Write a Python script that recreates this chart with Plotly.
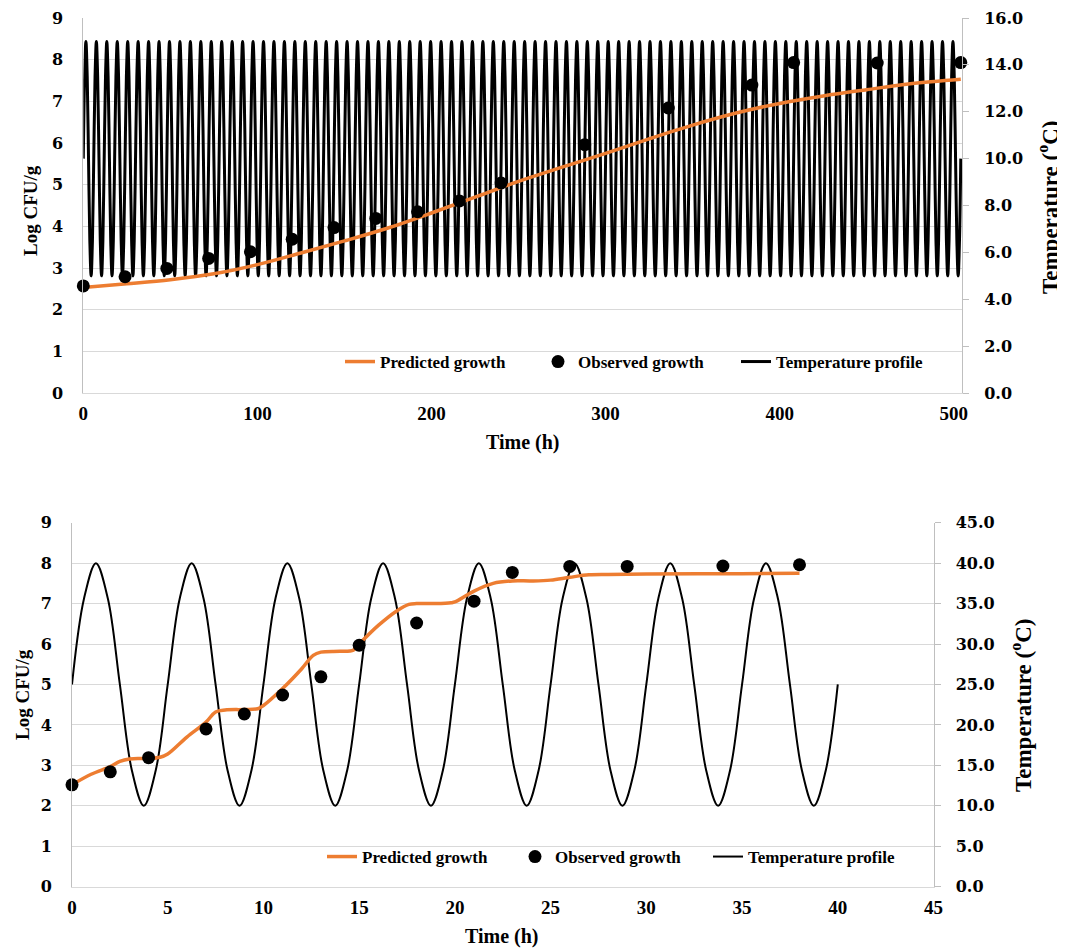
import plotly.graph_objects as go

# ---------------- Top chart data (0-504 h, 5-15 C profile) ----------------
top_obs_time = [0, 24, 48, 72, 96, 120, 144, 168, 192, 216, 240, 288, 336, 384, 408, 456, 504]
top_obs_log = [2.57, 2.79, 2.99, 3.23, 3.39, 3.69, 3.97, 4.19, 4.35, 4.61, 5.04, 5.96, 6.84, 7.39, 7.93, 7.92, 7.93]

top_pred_time = [0, 25, 50, 75, 100, 125, 150, 175, 200, 225, 250, 275, 300, 325, 350, 375, 400, 425, 450, 475, 504]
top_pred_log = [2.53, 2.62, 2.72, 2.86, 3.08, 3.36, 3.65, 3.96, 4.32, 4.70, 5.08, 5.42, 5.75, 6.10, 6.43, 6.72, 6.95, 7.13, 7.28, 7.42, 7.53]

# one cycle of the temperature profile, repeated over the run
top_temp_cycle = [10.0, 13.5, 15.0, 13.5, 10.0, 6.5, 5.0, 6.5]
top_temp_period_h = 6
top_temp_end_h = 504

# ---------------- Bottom chart data (0-40 h, 10-40 C profile) ----------------
bot_obs_time = [0, 2, 4, 7, 9, 11, 13, 15, 18, 21, 23, 26, 29, 34, 38]
bot_obs_log = [2.52, 2.84, 3.19, 3.90, 4.27, 4.74, 5.19, 5.97, 6.52, 7.06, 7.77, 7.92, 7.92, 7.93, 7.96]

bot_pred_time = [0, 1, 2, 2.5, 3, 4, 4.6, 5, 6, 7, 7.5, 8, 9, 9.7, 10, 11, 12, 12.6, 13, 14,
                 14.7, 15, 16, 17, 17.6, 18, 19, 19.8, 20, 21, 22, 23, 24, 25, 26, 27, 28, 30, 35, 38]
bot_pred_log = [2.52, 2.78, 2.97, 3.10, 3.16, 3.17, 3.20, 3.28, 3.70, 4.07, 4.32, 4.37, 4.38, 4.40, 4.48,
                4.90, 5.39, 5.72, 5.80, 5.82, 5.85, 6.00, 6.46, 6.83, 6.98, 7.00, 7.00, 7.02, 7.04,
                7.31, 7.50, 7.56, 7.56, 7.58, 7.65, 7.71, 7.72, 7.73, 7.74, 7.75]

bot_temp_cycle = [25.0, 35.6, 40.0, 35.6, 25.0, 14.4, 10.0, 14.4]
bot_temp_period_h = 5
bot_temp_end_h = 40

top_x_ticks = [0, 100, 200, 300, 400, 500]
bot_x_ticks = [0, 5, 10, 15, 20, 25, 30, 35, 40, 45]

ORANGE = "#ED7D31"
GRID = "#d9d9d9"
AXLINE = "#bfbfbf"
SERIF = "Liberation Serif"
TICKFONT = dict(family="DejaVu Serif", size=16, color="black", weight="bold")
XTICKFONT = dict(family=SERIF, size=19, color="black", weight="bold")


def tile_profile(cycle, period, end):
    step = period / len(cycle)
    n = int(round(end / step))
    ts = [i * step for i in range(n + 1)]
    vs = [cycle[i % len(cycle)] for i in range(n + 1)]
    return ts, vs


top_temp_t, top_temp_v = tile_profile(top_temp_cycle, top_temp_period_h, top_temp_end_h)
bot_temp_t, bot_temp_v = tile_profile(bot_temp_cycle, bot_temp_period_h, bot_temp_end_h)

fig = go.Figure()

# ---- top ----
fig.add_trace(go.Scatter(x=top_temp_t, y=top_temp_v, mode="lines", name="Temperature profile",
                         line=dict(color="black", width=3, shape="spline"),
                         xaxis="x", yaxis="y", legend="legend", legendrank=3))
fig.add_trace(go.Scatter(x=top_pred_time, y=top_pred_log, mode="lines", name="Predicted growth",
                         line=dict(color=ORANGE, width=3.5, shape="spline"),
                         xaxis="x", yaxis="y2", legend="legend", legendrank=1))
fig.add_trace(go.Scatter(x=top_obs_time, y=top_obs_log, mode="markers", name="Observed growth",
                         marker=dict(color="black", size=13), cliponaxis=False,
                         xaxis="x", yaxis="y2", legend="legend", legendrank=2))

# ---- bottom ----
fig.add_trace(go.Scatter(x=bot_temp_t, y=bot_temp_v, mode="lines", name="Temperature profile",
                         line=dict(color="black", width=2, shape="spline"),
                         xaxis="x2", yaxis="y3", legend="legend2", legendrank=3))
fig.add_trace(go.Scatter(x=bot_pred_time, y=bot_pred_log, mode="lines", name="Predicted growth",
                         line=dict(color=ORANGE, width=3.5, shape="spline"),
                         xaxis="x2", yaxis="y4", legend="legend2", legendrank=1))
fig.add_trace(go.Scatter(x=bot_obs_time, y=bot_obs_log, mode="markers", name="Observed growth",
                         marker=dict(color="black", size=13), cliponaxis=False,
                         xaxis="x2", yaxis="y4", legend="legend2", legendrank=2))

# page body adds an 8 px margin at top/left; figure fills the rest of the window
OFF = 8
W, H = 1065 - OFF, 949 - OFF


def px_x(p):
    return (p - OFF) / W


def px_y(p):
    return 1 - (p - OFF) / H


legend_common = dict(orientation="h", bgcolor="rgba(0,0,0,0)", yanchor="middle", xanchor="left",
                     font=dict(family=SERIF, size=17, color="black", weight="bold"),
                     itemwidth=30, tracegroupgap=0, traceorder="normal",
                     entrywidthmode="pixels")

fig.update_layout(
    width=W, height=H,
    margin=dict(l=0, r=0, t=0, b=0, autoexpand=False),
    paper_bgcolor="white", plot_bgcolor="white",
    showlegend=True,
    xaxis=dict(domain=[px_x(83.3), px_x(962)], anchor="y", range=[0, 504.7],
               tickvals=top_x_ticks, showgrid=False, zeroline=False, automargin=False,
               showline=True, linecolor=GRID, ticks="", tickfont=XTICKFONT,
               ticklabelstandoff=3),
    yaxis=dict(domain=[px_y(393), px_y(18)], anchor="x", side="right", range=[0, 16],
               dtick=2, tick0=0, tickformat=".1f", showgrid=False, zeroline=False, automargin=False,
               showline=True, linecolor=AXLINE, ticks="outside", ticklen=6, tickcolor=AXLINE,
               tickfont=TICKFONT, ticklabelstandoff=12),
    yaxis2=dict(overlaying="y", anchor="x", side="left", range=[0, 9], dtick=1, tick0=0,
                showgrid=True, gridcolor=GRID, gridwidth=1, zeroline=False, automargin=False,
                showline=True, linecolor=AXLINE, ticks="", tickfont=TICKFONT,
                ticklabelstandoff=16),
    xaxis2=dict(domain=[px_x(72), px_x(933.5)], anchor="y3", range=[0, 45],
                tickvals=bot_x_ticks, showgrid=False, zeroline=False, automargin=False,
                showline=True, linecolor=GRID, ticks="", tickfont=XTICKFONT,
                ticklabelstandoff=3),
    yaxis3=dict(domain=[px_y(886.7), px_y(522.7)], anchor="x2", side="right", range=[0, 45],
                dtick=5, tick0=0, tickformat=".1f", showgrid=False, zeroline=False, automargin=False,
                showline=True, linecolor=AXLINE, ticks="outside", ticklen=6, tickcolor=AXLINE,
                tickfont=TICKFONT, ticklabelstandoff=12),
    yaxis4=dict(overlaying="y3", anchor="x2", side="left", range=[0, 9], dtick=1, tick0=0,
                showgrid=True, gridcolor=GRID, gridwidth=1, zeroline=False, automargin=False,
                showline=True, linecolor=AXLINE, ticks="", tickfont=TICKFONT,
                ticklabelstandoff=16),
    legend=dict(x=px_x(340), y=px_y(362), entrywidth=153, **legend_common),
    legend2=dict(x=px_x(322), y=px_y(857), entrywidth=148, **legend_common),
)

title_font = dict(family=SERIF, size=19, color="black", weight="bold")
temp_font = dict(family=SERIF, size=23, color="black", weight="bold")
annotations = [
    dict(text="Log CFU/g", x=px_x(31), y=px_y(211), textangle=-90, font=title_font),
    dict(text="Temperature (<sup>o</sup>C)", x=px_x(1049), y=px_y(207), textangle=-90, font=temp_font),
    dict(text="Time (h)", x=px_x(523), y=px_y(443), font=dict(family=SERIF, size=20, color="black", weight="bold")),
    dict(text="Log CFU/g", x=px_x(22), y=px_y(695), textangle=-90, font=title_font),
    dict(text="Temperature (<sup>o</sup>C)", x=px_x(1021), y=px_y(705), textangle=-90, font=temp_font),
    dict(text="Time (h)", x=px_x(502), y=px_y(936), font=dict(family=SERIF, size=20, color="black", weight="bold")),
]
for a in annotations:
    a.update(xref="paper", yref="paper", showarrow=False, xanchor="center", yanchor="middle")
fig.update_layout(annotations=annotations)

fig.write_html("out.html")
